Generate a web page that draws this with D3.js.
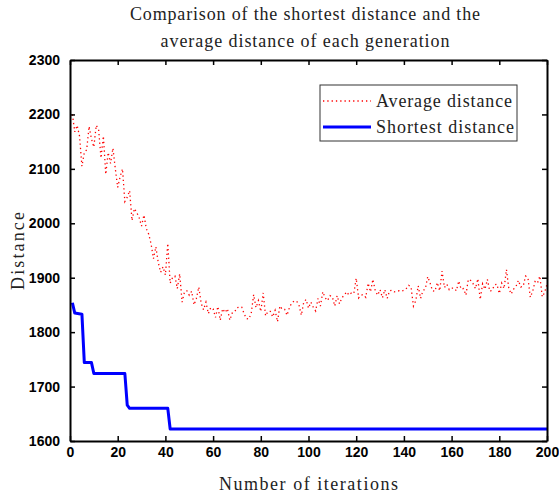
<!DOCTYPE html>
<html>
<head>
<meta charset="utf-8">
<script src="https://cdn.jsdelivr.net/npm/d3@7"></script>
<style>
  body { margin: 0; background: #fff; }
  svg { display: block; }
</style>
</head>
<body>
<script>
// average distance of each generation, iterations 1..200
const avgDistance = [
  2200, 2168, 2180, 2160, 2105, 2130, 2135, 2178, 2155, 2140,
  2180, 2172, 2120, 2160, 2090, 2130, 2110, 2138, 2100, 2066,
  2085, 2100, 2040, 2048, 2060, 2005, 2027, 2020, 2010, 1995,
  2015, 1990, 1980, 1962, 1935, 1957, 1928, 1910, 1920, 1905,
  1963, 1890, 1900, 1903, 1880, 1907, 1855, 1874, 1876, 1868,
  1875, 1850, 1862, 1883, 1853, 1841, 1855, 1834, 1845, 1843,
  1827, 1847, 1822, 1843, 1836, 1843, 1822, 1835, 1837, 1845,
  1846, 1846, 1834, 1825, 1824, 1835, 1869, 1845, 1858, 1838,
  1872, 1830, 1838, 1838, 1828, 1840, 1819, 1848, 1842, 1842,
  1831, 1845, 1854, 1857, 1857, 1850, 1831, 1855, 1860, 1844,
  1855, 1846, 1839, 1862, 1848, 1874, 1863, 1858, 1867, 1865,
  1848, 1867, 1852, 1863, 1868, 1874, 1868, 1872, 1871, 1899,
  1863, 1868, 1869, 1864, 1890, 1874, 1897, 1876, 1868, 1878,
  1863, 1878, 1862, 1876, 1877, 1874, 1875, 1876, 1875, 1877,
  1880, 1886, 1883, 1848, 1858, 1885, 1862, 1876, 1880, 1902,
  1890, 1876, 1875, 1891, 1876, 1912, 1882, 1888, 1878, 1881,
  1881, 1876, 1894, 1879, 1880, 1868, 1897, 1895, 1889, 1880,
  1898, 1860, 1889, 1879, 1897, 1875, 1877, 1887, 1888, 1871,
  1890, 1880, 1915, 1880, 1870, 1879, 1884, 1895, 1883, 1884,
  1903, 1900, 1864, 1875, 1893, 1890, 1903, 1865, 1873, 1888
];

// shortest distance: vertices where the best route changes
const shortestIter = [1, 2, 5, 6, 9, 10, 23, 24, 25, 41, 42, 200];
const shortestDistance = [1854, 1835, 1833, 1744, 1744, 1724, 1724, 1666, 1660, 1660, 1622, 1622];

const xTicks = [0, 20, 40, 60, 80, 100, 120, 140, 160, 180, 200];
const yTicks = [1600, 1700, 1800, 1900, 2000, 2100, 2200, 2300];

const titleLines = ["Comparison of the shortest distance and the", "average distance of each generation"];
const legendLabels = ["Average distance", "Shortest distance"];

const W = 559, H = 495;
const margin = { top: 60, right: 12, bottom: 54, left: 70 };
const width = W - margin.left - margin.right;
const height = H - margin.top - margin.bottom;

const svg = d3.select("body").append("svg").attr("width", W).attr("height", H);

const x = d3.scaleLinear().domain([0, 200]).range([0, width]);
const y = d3.scaleLinear().domain([1600, 2300]).range([height, 0]);

const g = svg.append("g").attr("transform", `translate(${margin.left},${margin.top})`);

// average line, dotted red
const avgData = avgDistance.map((v, i) => [i + 1, v]);
const line = d3.line().x((d) => x(d[0])).y((d) => y(d[1]));

g.append("path")
  .datum(avgData)
  .attr("fill", "none")
  .attr("stroke", "#ff0000")
  .attr("stroke-width", 1.3)
  .attr("stroke-dasharray", "1.3,3")
  .attr("d", line);

// shortest line, solid blue
const bestData = shortestIter.map((it, i) => [it, shortestDistance[i]]);
g.append("path")
  .datum(bestData)
  .attr("fill", "none")
  .attr("stroke", "#0000ff")
  .attr("stroke-width", 3)
  .attr("stroke-linejoin", "round")
  .attr("d", line);

// axes, MATLAB style: box with inward ticks on all sides
const tickFont = "'Liberation Sans', Arial, sans-serif";
const fmt = d3.format("d");
const xAxis = d3.axisBottom(x).tickValues(xTicks).tickFormat(fmt).tickSizeInner(-5).tickSizeOuter(0).tickPadding(6);
const yAxis = d3.axisLeft(y).tickValues(yTicks).tickFormat(fmt).tickSizeInner(-5).tickSizeOuter(0).tickPadding(10);
const xAxisTop = d3.axisTop(x).tickValues(xTicks).tickSizeInner(-5).tickSizeOuter(0).tickFormat("");
const yAxisRight = d3.axisRight(y).tickValues(yTicks).tickSizeInner(-5).tickSizeOuter(0).tickFormat("");

function styleAxis(sel) {
  sel.select(".domain").attr("stroke", "#000").attr("stroke-width", 2);
  sel.selectAll(".tick line").attr("stroke", "#000").attr("stroke-width", 1.5);
  sel.selectAll(".tick text")
    .attr("fill", "#000")
    .attr("font-family", tickFont)
    .attr("font-weight", "bold")
    .attr("font-size", "14px");
}

g.append("g").attr("transform", `translate(0,${height})`).call(xAxis).call(styleAxis);
g.append("g").call(yAxis).call(styleAxis);
g.append("g").call(xAxisTop).call(styleAxis);
g.append("g").attr("transform", `translate(${width},0)`).call(yAxisRight).call(styleAxis);

// titles and labels, stretched to the widths seen in the reference
const serif = "'Liberation Serif', 'Times New Roman', serif";
const titleWidths = [350, 289];
titleLines.forEach((t, i) => {
  svg.append("text")
    .attr("x", 305)
    .attr("y", 20 + i * 27)
    .attr("text-anchor", "middle")
    .attr("font-family", serif)
    .attr("font-size", "18px")
    .attr("textLength", titleWidths[i])
    .attr("lengthAdjust", "spacing")
    .attr("fill", "#222")
    .text(t);
});

svg.append("text")
  .attr("x", 308.5)
  .attr("y", 490)
  .attr("text-anchor", "middle")
  .attr("font-family", serif)
  .attr("font-size", "18px")
  .attr("textLength", 179)
  .attr("lengthAdjust", "spacing")
  .attr("fill", "#222")
  .text("Number of iterations");

svg.append("text")
  .attr("transform", "translate(24,251) rotate(-90)")
  .attr("text-anchor", "middle")
  .attr("font-family", serif)
  .attr("font-size", "18px")
  .attr("textLength", 78)
  .attr("lengthAdjust", "spacing")
  .attr("fill", "#222")
  .text("Distance");

// legend
const legend = svg.append("g").attr("transform", "translate(320,85)");
legend.append("rect")
  .attr("width", 197)
  .attr("height", 56)
  .attr("fill", "#fff")
  .attr("stroke", "#333")
  .attr("stroke-width", 1);

const legendStyles = [
  { stroke: "#ff0000", width: 1.3, dash: "1.3,3" },
  { stroke: "#0000ff", width: 3, dash: null }
];
const legendWidths = [136, 138];
legendLabels.forEach((label, i) => {
  const ly = 16 + i * 26;
  legend.append("line")
    .attr("x1", 3).attr("x2", 51)
    .attr("y1", ly).attr("y2", ly)
    .attr("stroke", legendStyles[i].stroke)
    .attr("stroke-width", legendStyles[i].width)
    .attr("stroke-dasharray", legendStyles[i].dash);
  legend.append("text")
    .attr("x", 56)
    .attr("y", ly + 6)
    .attr("font-family", serif)
    .attr("font-size", "18px")
    .attr("textLength", legendWidths[i])
    .attr("lengthAdjust", "spacing")
    .attr("fill", "#222")
    .text(label);
});
</script>
</body>
</html>
